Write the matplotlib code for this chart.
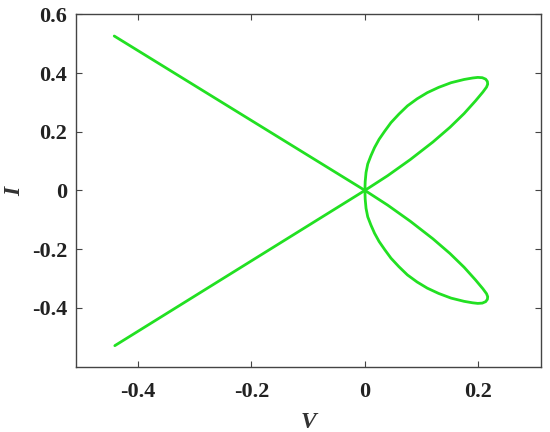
import matplotlib
matplotlib.use("Agg")
import matplotlib.pyplot as plt

# Left straight branches (V, I)
left_upper_v = [-0.442, 0.0]
left_upper_i = [0.526, 0.0]
left_lower_v = [-0.441, 0.0]
left_lower_i = [-0.529, 0.0]

# Upper lobe: from origin along inner branch to tip, back along outer branch
lobe_v = [0.0, 0.04, 0.08, 0.12, 0.15, 0.175, 0.195, 0.208, 0.2145, 0.2165,
          0.216, 0.213, 0.207, 0.199, 0.19, 0.175, 0.152, 0.13, 0.11, 0.092,
          0.075, 0.06, 0.046, 0.035, 0.025, 0.017, 0.0106, 0.005, 0.002,
          0.0005, 0.0]
lobe_i = [0.0, 0.05, 0.105, 0.165, 0.215, 0.262, 0.305, 0.335, 0.352, 0.362,
          0.371, 0.379, 0.384, 0.385, 0.383, 0.378, 0.367, 0.351, 0.333, 0.312,
          0.288, 0.26, 0.231, 0.202, 0.174, 0.146, 0.118, 0.09, 0.061,
          0.03, 0.0]
# Lower lobe mirrors the upper one
lobe_low_i = [-v for v in lobe_i]

xticks = [-0.4, -0.2, 0, 0.2]
xticklabels = ["-0.4", "-0.2", "0", "0.2"]
yticks = [-0.4, -0.2, 0, 0.2, 0.4, 0.6]
yticklabels = ["-0.4", "-0.2", "0", "0.2", "0.4", "0.6"]

green = "#22e022"
font = "Liberation Serif"

fig = plt.figure(figsize=(5.5, 4.32), dpi=100)
ax = fig.add_axes([0.1376, 0.1516, 0.8455, 0.8153])

kw = dict(color=green, lw=2.0, solid_capstyle="round", solid_joinstyle="round")
ax.plot(left_upper_v, left_upper_i, **kw)
ax.plot(left_lower_v, left_lower_i, **kw)
ax.plot(lobe_v, lobe_i, **kw)
ax.plot(lobe_v, lobe_low_i, **kw)

ax.set_xlim(-0.51, 0.31)
ax.set_ylim(-0.6, 0.6)
ax.set_xticks(xticks)
ax.set_xticklabels(xticklabels)
ax.set_yticks(yticks)
ax.set_yticklabels(yticklabels)

for s in ax.spines.values():
    s.set_color("#444444")
    s.set_linewidth(1.0)

ax.tick_params(direction="in", length=4, width=0.8, color="#444444",
               top=True, right=True)
ax.tick_params(axis="x", pad=11)
ax.tick_params(axis="y", pad=6)
for lab in ax.get_xticklabels() + ax.get_yticklabels():
    lab.set_fontfamily(font)
    lab.set_fontweight("bold")
    lab.set_fontsize(16)
    lab.set_color("#222222")

ax.set_xlabel("V", fontfamily=font, fontstyle="italic", fontweight="bold",
              fontsize=17, color="#333333", labelpad=7)
fig.text(15 / 550, 1 - 191 / 432, "I", fontfamily=font, fontstyle="italic",
         fontweight="bold", fontsize=17, color="#333333", rotation=90,
         ha="center", va="center")

fig.savefig("out.png", dpi=100)
